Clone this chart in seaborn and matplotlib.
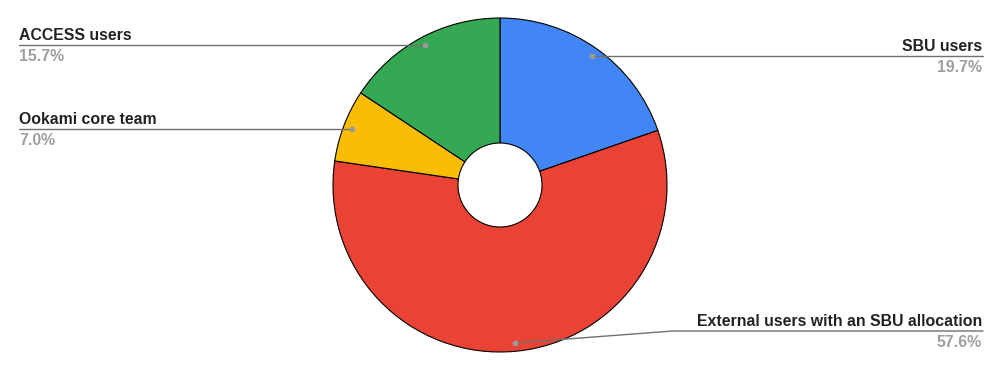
import numpy as np
import matplotlib
matplotlib.use("Agg")
import matplotlib.pyplot as plt
import seaborn as sns

# ── data ─────────────────────────────────────────────
labels = ["SBU users", "External users with an SBU allocation",
          "Ookami core team", "ACCESS users"]
shares = [19.7, 57.6, 7.0, 15.7]
colors = ["#4285F4", "#EA4335", "#FBBC04", "#34A853"]

# label layout (pixel rows of the leader line, left/right side)
line_rows = [56, 331, 129, 45]
sides     = ["right", "right", "left", "left"]

sns.set_theme(style="white")
plt.rcParams["font.family"] = ["Liberation Sans", "DejaVu Sans"]

W, H = 1001, 371
fig = plt.figure(figsize=(W / 100, H / 100), dpi=100)
ax = fig.add_axes([0, 0, 1, 1])

cx, cy, R, r_hole = 500, H - 185, 167, 42
wedges, _ = ax.pie(shares, colors=colors, startangle=90, counterclock=False,
                   center=(cx, cy), radius=R, frame=True,
                   wedgeprops=dict(width=R - r_hole, edgecolor="black",
                                   linewidth=0.8))
ax.set_xlim(0, W)
ax.set_ylim(0, H)
ax.set_aspect("equal")
ax.axis("off")

line_col = "#707070"
fs = 11.4
for w, lab, val, row, side in zip(wedges, labels, shares, line_rows, sides):
    # dot sits inside the slice at its mid angle
    mid = np.deg2rad((w.theta1 + w.theta2) / 2)
    dx, dy = cx + 0.95 * R * np.cos(mid), cy + 0.95 * R * np.sin(mid)
    ly = H - row
    if side == "right":
        xt = 983
        if abs(dy - ly) > 3:
            ax.plot([dx, 673, xt], [dy, ly, ly], color=line_col, lw=1)
        else:
            dy = ly
            ax.plot([dx, xt], [ly, ly], color=line_col, lw=1)
        ha, tx = "right", xt - 1
    else:
        xt = 19
        dy = ly
        ax.plot([xt, dx], [ly, ly], color=line_col, lw=1)
        ha, tx = "left", xt
    ax.plot(dx, dy, "o", color="#999999", ms=3.2, zorder=5)
    ax.text(tx, ly + 5, lab, ha=ha, va="baseline", fontsize=fs,
            fontweight="bold", color="#222222")
    ax.text(tx, ly - 16, f"{val:.1f}%", ha=ha, va="baseline", fontsize=fs,
            fontweight="bold", color="#9E9E9E")

fig.savefig("out.png", dpi=100)
